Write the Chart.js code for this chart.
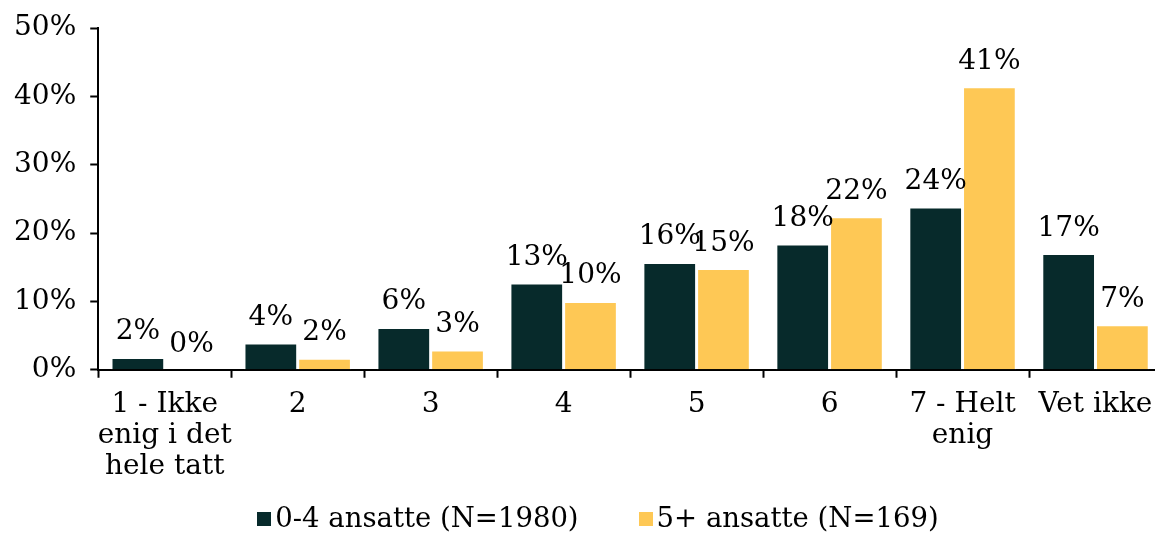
<!DOCTYPE html>
<html lang="no">
<head>
<meta charset="utf-8">
<title>Ansatte – enighet</title>
<script src="https://cdn.jsdelivr.net/npm/chart.js@4.4.1/dist/chart.umd.min.js"></script>
<style>
  html, body { margin: 0; padding: 0; background: #fff; overflow: hidden; }
  #wrap { position: relative; width: 1196px; height: 533px; }
  #legend {
    position: absolute; left: 0; top: 501px; width: 1196px;
    display: flex; justify-content: center; gap: 60px;
    font-family: "DejaVu Serif", serif; font-size: 27.5px; color: #000;
  }
  #legend span.item { display: flex; align-items: center; }
  #legend i { display: inline-block; width: 14px; height: 14px; margin-right: 4px; margin-top: 3px; }
</style>
</head>
<body>
<div id="wrap">
  <canvas id="chart" width="1196" height="533"></canvas>
  <div id="legend"></div>
</div>
<script>
/* Enighet etter antall ansatte – grupperte søyler */
var categories = [['1 - Ikke', 'enig i det', 'hele tatt'], '2', '3', '4', '5', '6', ['7 - Helt', 'enig'], 'Vet ikke'];
var seriesNames = ['0-4 ansatte (N=1980)', '5+ ansatte (N=169)'];
var small = [1.8, 3.9, 6.2, 12.7, 15.7, 18.4, 23.8, 17.0];   // 0-4 ansatte
var large = [0, 1.7, 2.9, 10.0, 14.8, 22.4, 41.4, 6.6];      // 5+ ansatte
var yTicks = [0, 10, 20, 30, 40, 50];
var colors = ['#072a2b', '#fec855'];

var FONT = '"DejaVu Serif", serif';
var SIZE = 28;

/* prosentetiketter over hver søyle */
var valueLabels = {
    id: 'valueLabels',
    afterDatasetsDraw: function (chart) {
        var ctx = chart.ctx;
        ctx.save();
        ctx.font = SIZE + 'px ' + FONT;
        ctx.fillStyle = '#000';
        ctx.textAlign = 'center';
        ctx.textBaseline = 'alphabetic';
        chart.data.datasets.forEach(function (ds, i) {
            chart.getDatasetMeta(i).data.forEach(function (bar, j) {
                ctx.fillText(Math.round(ds.data[j]) + '%', bar.x, bar.y - 18);
            });
        });
        ctx.restore();
    }
};

var chart = new Chart(document.getElementById('chart').getContext('2d'), {
    type: 'bar',
    data: {
        labels: categories,
        datasets: [
            { label: seriesNames[0], data: small, backgroundColor: colors[0] },
            { label: seriesNames[1], data: large, backgroundColor: colors[1] }
        ]
    },
    options: {
        responsive: false,
        animation: false,
        devicePixelRatio: 1,
        categoryPercentage: 0.808,
        barPercentage: 1.0,
        borderColor: '#ffffff',
        borderWidth: 1.5,
        layout: { padding: { left: 0, right: 34, top: 4, bottom: 40 } },
        plugins: {
            legend: { display: false },
            tooltip: { enabled: false }
        },
        scales: {
            x: {
                grid: { display: true, drawOnChartArea: false, drawTicks: true, tickLength: 8, tickWidth: 2, tickColor: '#000', offset: true },
                border: { display: true, color: '#000', width: 2 },
                ticks: {
                    color: '#000', padding: 11, maxRotation: 0, autoSkip: false,
                    font: { family: FONT, size: SIZE, lineHeight: 1.11 }
                }
            },
            y: {
                min: yTicks[0],
                max: yTicks[yTicks.length - 1],
                afterBuildTicks: function (axis) {
                    axis.ticks = yTicks.map(function (v) { return { value: v }; });
                },
                grid: { display: true, drawOnChartArea: false, drawTicks: true, tickLength: 8, tickWidth: 2, tickColor: '#000' },
                border: { display: true, color: '#000', width: 2 },
                ticks: {
                    color: '#000', padding: 14,
                    font: { family: FONT, size: SIZE, lineHeight: 1.0 },
                    callback: function (v) { return v + '%'; }
                }
            }
        }
    },
    plugins: [valueLabels]
});

/* forklaring under diagrammet */
var legendEl = document.getElementById('legend');
chart.data.datasets.forEach(function (ds) {
    var item = document.createElement('span');
    item.className = 'item';
    var box = document.createElement('i');
    box.style.background = ds.backgroundColor;
    item.appendChild(box);
    item.appendChild(document.createTextNode(ds.label));
    legendEl.appendChild(item);
});
</script>
</body>
</html>
